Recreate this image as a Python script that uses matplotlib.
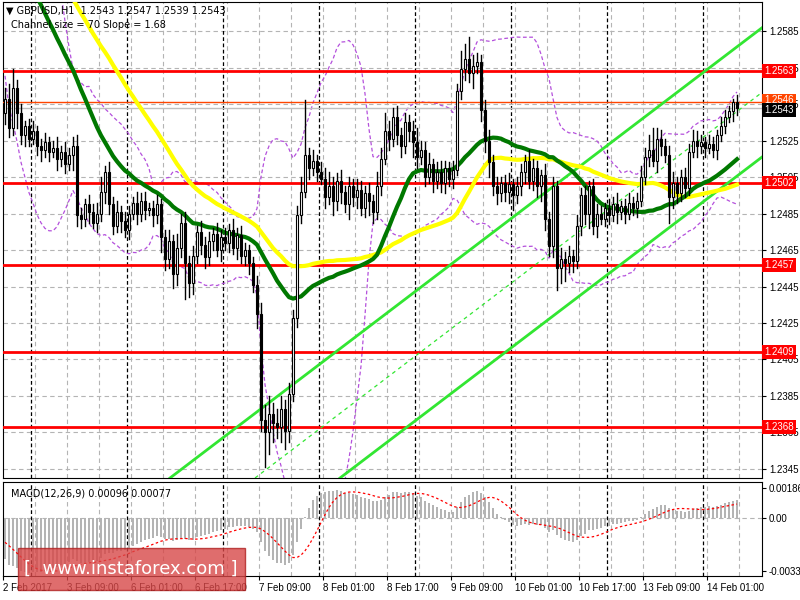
import numpy as np
import pandas as pd
import matplotlib
matplotlib.use("Agg")
import matplotlib.pyplot as plt
from matplotlib.patches import Rectangle

plt.rcParams['font.family'] = ['Liberation Sans', 'DejaVu Sans']

# hidden history before the visible window (needed for moving averages)
prior_closes = [1.2705, 1.2698, 1.2702, 1.2690, 1.2695, 1.2688, 1.2680, 1.2685, 1.2692, 1.2686,
                1.2679, 1.2684, 1.2690, 1.2682, 1.2676, 1.2680, 1.2672, 1.2678, 1.2684, 1.2675,
                1.2670, 1.2676, 1.2668, 1.2662, 1.2670, 1.2664, 1.2658, 1.2665, 1.2660, 1.2655,
                1.2662, 1.2657, 1.2650, 1.2656, 1.2648, 1.2652, 1.2645, 1.2650, 1.2642, 1.2646,
                1.2638, 1.2644, 1.2636, 1.2640, 1.2632, 1.2620, 1.2605, 1.2590, 1.2575, 1.2560]

closes = [1.2548, 1.2532, 1.2554, 1.2540,
          1.2528, 1.2533, 1.2526, 1.2530,
          1.2522, 1.2520, 1.2524, 1.2519, 1.2521,
          1.2515, 1.2519, 1.2512, 1.2517, 1.2522,
          1.2484,
          1.2482, 1.2490, 1.2486, 1.2480, 1.2485,
          1.2497, 1.2508, 1.2490,
          1.2478, 1.2486, 1.2481, 1.2476, 1.2485,
          1.2491, 1.2485, 1.2492, 1.2487, 1.2488, 1.2484, 1.2490,
          1.2472, 1.2460,
          1.2470, 1.2452, 1.2466, 1.2480, 1.2458, 1.2447, 1.2462,
          1.2475, 1.2468, 1.2461,
          1.2470, 1.2474, 1.2465, 1.2472, 1.2469, 1.2476, 1.2466, 1.2473, 1.2462, 1.2465,
          1.2458, 1.2446,
          1.2430,
          1.2372,
          1.2365, 1.2375, 1.2370, 1.2368, 1.2378, 1.2366,
          1.2386,
          1.2428,
          1.2484,
          1.2497,
          1.2517,
          1.2510, 1.2514, 1.2508, 1.2504,
          1.2494, 1.2500, 1.2492, 1.2503, 1.2497, 1.2490, 1.2500, 1.2494, 1.2498,
          1.2488, 1.2496, 1.2492, 1.2486,
          1.2500, 1.2515, 1.2530, 1.2526,
          1.2538, 1.2528, 1.2522, 1.2535,
          1.2530, 1.2524, 1.2516, 1.2520,
          1.2505, 1.2512, 1.2503, 1.2508, 1.2502, 1.2510, 1.2504,
          1.2509,
          1.2552,
          1.2564, 1.2570, 1.2562, 1.2566, 1.2568,
          1.2542,
          1.2525, 1.2513,
          1.2500, 1.2496, 1.2502,
          1.2497, 1.2501, 1.2495, 1.2500,
          1.2508, 1.2514, 1.2503,
          1.2510, 1.2500, 1.2506,
          1.2482,
          1.2467,
          1.2500,
          1.2455,
          1.2460, 1.2458, 1.2462, 1.2459,
          1.2478, 1.2495, 1.2485,
          1.2500, 1.2478, 1.2485,
          1.2482, 1.2488, 1.2484, 1.2490, 1.2486, 1.2489, 1.2485, 1.2491, 1.2488, 1.2492,
          1.2505, 1.2516,
          1.2520, 1.2514, 1.2526, 1.2522, 1.2517,
          1.2494,
          1.2502, 1.2496, 1.2505, 1.2499,
          1.2519,
          1.2525, 1.2522, 1.2524, 1.2521, 1.2523, 1.2520,
          1.2528, 1.2533, 1.2538,
          1.2541, 1.2546, 1.2543]
first_open = 1.2540

upper_wick_pips = [6, 8, 10, 4, 5, 3, 4, 6, 3, 4, 5, 3, 4, 6, 3, 5, 4, 5, 6, 4,
                   3, 5, 4, 6, 8, 3, 5, 4, 6, 3, 5, 4, 3, 6, 4, 5, 3, 4, 5, 3,
                   4, 6, 3, 8, 5, 6, 4, 5, 3, 6, 4, 5, 3, 6, 4, 5, 3, 6, 4, 5,
                   4, 3, 3, 5, 6, 8, 10, 6, 8, 7, 5, 6, 4, 5, 8, 30, 4, 6, 3, 5,
                   6, 8, 5, 4, 6, 3, 5, 4, 6, 5, 4, 6, 3, 8, 6, 10, 6, 5, 6, 4,
                   5, 4, 6, 8, 5, 4, 6, 3, 5, 6, 4, 3, 5, 4, 10, 8, 12, 6, 5, 4,
                   5, 6, 4, 5, 3, 4, 6, 3, 5, 4, 3, 6, 5, 4, 3, 6, 4, 5, 3, 6,
                   4, 5, 3, 6, 4, 5, 3, 4, 5, 4, 3, 5, 4, 6, 3, 4, 5, 3, 4, 6,
                   5, 8, 12, 6, 5, 4, 5, 6, 3, 4, 5, 4, 6, 5, 4, 3, 5, 4, 3, 5,
                   4, 3, 2, 4, 4, 4]
lower_wick_pips = [6, 5, 4, 8, 5, 6, 4, 3, 5, 6, 4, 5, 3, 6, 4, 5, 3, 8, 6, 5,
                   4, 6, 3, 5, 4, 6, 5, 4, 3, 6, 4, 5, 3, 6, 4, 5, 3, 6, 4, 8,
                   6, 5, 8, 6, 5, 20, 8, 6, 4, 5, 6, 4, 5, 3, 6, 4, 5, 3, 6, 4,
                   5, 6, 4, 8, 6, 19, 12, 10, 6, 8, 10, 6, 4, 5, 4, 3, 6, 4, 5, 3,
                   6, 4, 8, 5, 6, 4, 8, 5, 6, 4, 5, 8, 6, 4, 5, 3, 6, 4, 5, 6,
                   4, 5, 8, 6, 4, 5, 3, 6, 4, 5, 6, 4, 5, 3, 4, 6, 5, 8, 4, 6,
                   6, 8, 5, 6, 4, 5, 6, 8, 4, 5, 6, 4, 5, 6, 8, 6, 5, 6, 12, 8,
                   10, 5, 6, 4, 5, 6, 8, 4, 6, 3, 4, 5, 3, 6, 4, 5, 3, 4, 5, 3,
                   4, 5, 3, 6, 5, 4, 14, 6, 5, 4, 5, 4, 3, 6, 4, 5, 3, 4, 5, 3,
                   4, 3, 5, 4, 4, 4]

levels = [1.2563, 1.2502, 1.2457, 1.2409, 1.2368]
level_labels = ["1.2563", "1.2502", "1.2457", "1.2409", "1.2368"]
orange_level = 1.2546
current_price = 1.2543
yticks = [1.2585, 1.2565, 1.2545, 1.2525, 1.2505, 1.2485, 1.2465, 1.2445,
          1.2425, 1.2405, 1.2385, 1.2365, 1.2345]
date_labels = ["2 Feb 2017", "3 Feb 09:00", "6 Feb 01:00", "6 Feb 17:00", "7 Feb 09:00",
               "8 Feb 01:00", "8 Feb 17:00", "9 Feb 09:00", "10 Feb 01:00", "10 Feb 17:00",
               "13 Feb 09:00", "14 Feb 01:00"]
# regression channel: start bar / price and slope per bar
channel_upper_start = (41.25, 1.2340)
channel_lower_start = (83.75, 1.2340)
channel_mid_start = (62.5, 1.2340)
channel_slope = 0.0001668

n = len(closes)
x = np.arange(n)
c = np.array(closes)
o = np.concatenate([[first_open], c[:-1]])
up = np.array(upper_wick_pips[:n]) * 0.0001
dn = np.array(lower_wick_pips[:n]) * 0.0001
h = np.maximum(o, c) + up
l = np.minimum(o, c) - dn

allc = pd.Series(prior_closes + closes)
np_ = len(prior_closes)
sma_fast = allc.rolling(30, min_periods=1).mean().values[np_:]
sma_slow = allc.rolling(50, min_periods=1).mean().values[np_:]
bb_mid = allc.rolling(20, min_periods=1).mean()
bb_std = allc.rolling(20, min_periods=1).std().fillna(0)
bb_up = (bb_mid + 2 * bb_std).values[np_:]
bb_lo = (bb_mid - 2 * bb_std).values[np_:]
ema12 = allc.ewm(span=12, adjust=False).mean()
ema26 = allc.ewm(span=26, adjust=False).mean()
macd = (ema12 - ema26)
signal = macd.rolling(9, min_periods=1).mean()
macd = macd.values[np_:]
signal = signal.values[np_:]

fig = plt.figure(figsize=(8, 6), dpi=100)
fig.patch.set_facecolor('white')
ax = fig.add_axes([3/800, 1 - 478/600, 759/800, 476/600])
ax2 = fig.add_axes([3/800, 1 - 576/600, 759/800, 94/600])

xlim = (-0.5, 189.25)
grid_kw = dict(color='#b4b4b4', lw=0.8, ls=(0, (4, 3)))
for a in (ax, ax2):
    a.set_xlim(*xlim)
    for k in np.arange(7.5, 190, 8):
        a.axvline(k, zorder=0, **grid_kw)
    for k in np.arange(6.5, 190, 24):
        a.axvline(k, color='black', lw=0.9, ls=(0, (3, 2)), zorder=1)
    for s in a.spines.values():
        s.set_color('black')

ax.set_ylim(1.2340, 1.2601)
for yv in yticks:
    ax.axhline(yv, zorder=0, **grid_kw)

ax.plot(x, bb_up, color='#b450dc', lw=0.9, ls=(0, (3, 2)), zorder=2)
ax.plot(x, bb_lo, color='#b450dc', lw=0.9, ls=(0, (3, 2)), zorder=2)

for lv in levels:
    ax.axhline(lv, color='#ff0000', lw=2, zorder=3)
ax.axhline(orange_level, color='#ff4500', lw=1, zorder=3)
ax.axhline(current_price, color='#c0c0c0', lw=1, zorder=2)

xe = xlim[1]
for (sx, sy), kw in [(channel_upper_start, dict(ls='-', lw=2)),
                     (channel_lower_start, dict(ls='-', lw=2)),
                     (channel_mid_start, dict(ls=(0, (3, 3)), lw=0.9))]:
    ax.plot([sx, xe], [sy, sy + channel_slope * (xe - sx)], color='#32e632', zorder=3, **kw)

ax.plot(x, sma_slow, color='#ffff00', lw=3, zorder=4)
ax.plot(x, sma_fast, color='#007800', lw=3, zorder=4)

for i in range(n):
    ax.plot([i, i], [l[i], h[i]], color='black', lw=1, zorder=5)
    bot = min(o[i], c[i])
    ht = max(abs(c[i] - o[i]), 0.00004)
    fc = 'white' if c[i] >= o[i] else 'black'
    ax.add_patch(Rectangle((i - 0.33, bot), 0.66, ht, facecolor=fc, edgecolor='black',
                           lw=0.8, zorder=6))

fs = 7
ax.yaxis.tick_right()
ax.set_yticks(yticks)
ax.set_yticklabels([f"{v:.4f}" for v in yticks], fontsize=fs)
ax.tick_params(axis='y', length=3, pad=2)
ax.set_xticks([])

for lv, lab in zip(levels, level_labels):
    ax.text(1.003, lv, lab, transform=ax.get_yaxis_transform(), fontsize=fs, color='white',
            va='center', ha='left', zorder=10,
            bbox=dict(boxstyle='square,pad=0.2', fc='#ff0000', ec='none'))
ax.text(1.003, orange_level + 0.0001, "1.2546", transform=ax.get_yaxis_transform(), fontsize=fs,
        color='white', va='center', ha='left', zorder=10,
        bbox=dict(boxstyle='square,pad=0.2', fc='#ff4500', ec='none'))
ax.text(1.003, current_price - 0.0001, "1.2543", transform=ax.get_yaxis_transform(), fontsize=fs,
        color='white', va='center', ha='left', zorder=11,
        bbox=dict(boxstyle='square,pad=0.2', fc='black', ec='none'))

ax.text(0.004, 0.993, "▼ GBPUSD,H1  1.2543 1.2547 1.2539 1.2543", transform=ax.transAxes,
        fontsize=fs, va='top', ha='left', zorder=12, family=['DejaVu Sans'])
ax.text(0.01, 0.963, "Channel size = 70 Slope = 1.68", transform=ax.transAxes,
        fontsize=fs, va='top', ha='left', zorder=12, family=['DejaVu Sans'])

ax2.set_ylim(-0.0036, 0.0022)
ax2.bar(x, macd, width=0.6, color='#b4b4b4', zorder=2)
ax2.plot(x, signal, color='#ff0000', lw=0.9, ls=(0, (2, 2)), zorder=3)
ax2.axhline(0, zorder=0, **grid_kw)
ax2.yaxis.tick_right()
ax2.set_yticks([0.00186, 0.0, -0.00331])
ax2.set_yticklabels(["0.00186", "0.00", "-0.00331"], fontsize=fs)
ax2.tick_params(axis='y', length=3, pad=2)
ax2.text(0.01, 0.93, "MACD(12,26,9) 0.00096 0.00077", transform=ax2.transAxes,
         fontsize=fs, va='top', ha='left', family=['DejaVu Sans'])
ax2.set_xticks(np.arange(0, 16 * len(date_labels), 16) - 0.5)
ax2.set_xticklabels(date_labels, fontsize=fs, ha='left')
ax2.tick_params(axis='x', length=3, pad=2)

fig.patches.append(Rectangle((18/800, 1 - 590/600), 227/800, 42/600, transform=fig.transFigure,
                             facecolor='#d84848', alpha=0.8, edgecolor='#b02020', zorder=20))
fig.text(131/800, 1 - 569/600, "[  www.instaforex.com ]", color='white', fontsize=13,
         ha='center', va='center', zorder=21, family=['DejaVu Sans'])

fig.savefig("out.png", dpi=100)
